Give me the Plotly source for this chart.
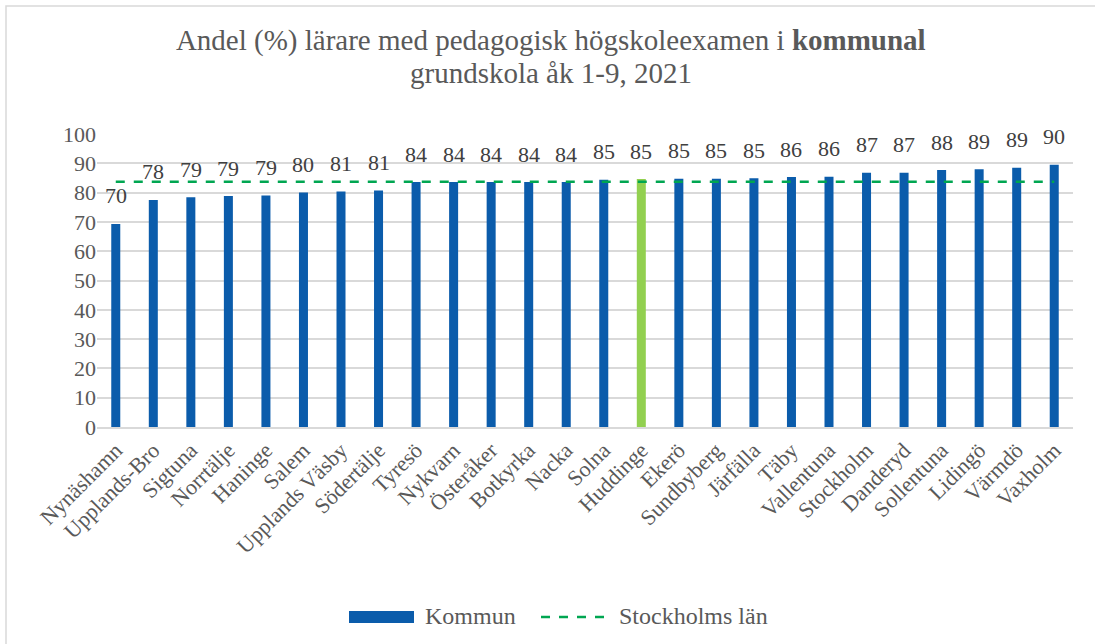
import plotly.graph_objects as go

categories = ["Nynäshamn", "Upplands-Bro", "Sigtuna", "Norrtälje", "Haninge", "Salem",
              "Upplands Väsby", "Södertälje", "Tyresö", "Nykvarn", "Österåker", "Botkyrka",
              "Nacka", "Solna", "Huddinge", "Ekerö", "Sundbyberg", "Järfälla", "Täby",
              "Vallentuna", "Stockholm", "Danderyd", "Sollentuna", "Lidingö", "Värmdö", "Vaxholm"]
values = [69.3, 77.5, 78.4, 78.8, 79.0, 80.0, 80.4, 80.7, 83.6, 83.6, 83.6, 83.6, 83.6,
          84.4, 84.6, 84.7, 84.7, 84.9, 85.3, 85.4, 86.8, 86.8, 87.7, 88.0, 88.5, 89.5]
value_labels = ["70", "78", "79", "79", "79", "80", "81", "81", "84", "84", "84", "84", "84",
                "85", "85", "85", "85", "85", "86", "86", "87", "87", "88", "89", "89", "90"]
lan_value = 83.7
highlight = "Huddinge"
y_ticks = [0, 10, 20, 30, 40, 50, 60, 70, 80, 90, 100]
series_names = ["Kommun", "Stockholms län"]
title_line1 = "Andel (%) lärare med pedagogisk högskoleexamen i <b>kommunal</b>"
title_line2 = "grundskola åk 1-9, 2021"

BLUE = "#0B5CAB"
GREEN_BAR = "#92D050"
GREEN_LINE = "#00A651"
TXT = "#595959"
FONT = "Liberation Serif, Times New Roman, serif"

W, H = 1095, 644
L, R, T, B = 97, 22, 134, 217
PW, PH = W - L - R, H - T - B


def px(x):
    return (x - L) / PW


def py(y):
    return (H - B - y) / PH


bar_colors = [GREEN_BAR if c == highlight else BLUE for c in categories]

fig = go.Figure()
fig.add_trace(go.Bar(
    x=categories, y=values, name=series_names[0],
    marker=dict(color=bar_colors, line=dict(width=0)),
    hoverinfo="x+y", showlegend=False,
))
fig.add_trace(go.Scatter(
    x=categories, y=[lan_value] * len(categories), name=series_names[1],
    mode="lines", line=dict(color=GREEN_LINE, width=2.5, dash="dash"), showlegend=False,
))

for c, v, t in zip(categories, values, value_labels):
    fig.add_annotation(x=c, y=v, text=t, showarrow=False, yanchor="middle", yshift=28,
                       font=dict(family=FONT, size=22, color="#404040"))

# second title line (kept separate for tighter line spacing)
fig.add_annotation(xref="paper", yref="paper", x=px(551), y=py(73), text=title_line2,
                   showarrow=False, xanchor="center", yanchor="middle",
                   font=dict(family=FONT, size=29, color=TXT))

# outer chart border
fig.add_shape(type="rect", xref="paper", yref="paper",
              x0=px(6), x1=px(1100), y0=py(650), y1=py(6),
              line=dict(color="#D9D9D9", width=1.5), fillcolor="rgba(0,0,0,0)", layer="below")

# legend (drawn manually to match wide bar swatch)
fig.add_shape(type="rect", xref="paper", yref="paper",
              x0=px(349), x1=px(414), y0=py(623), y1=py(611),
              line=dict(width=0), fillcolor=BLUE)
fig.add_annotation(xref="paper", yref="paper", x=px(423), y=py(616), text=series_names[0],
                   showarrow=False, xanchor="left", yanchor="middle",
                   font=dict(family=FONT, size=24, color=TXT))
fig.add_shape(type="line", xref="paper", yref="paper",
              x0=px(541), x1=px(607), y0=py(617), y1=py(617),
              line=dict(color=GREEN_LINE, width=2.5, dash="dash"))
fig.add_annotation(xref="paper", yref="paper", x=px(617), y=py(616), text=series_names[1],
                   showarrow=False, xanchor="left", yanchor="middle",
                   font=dict(family=FONT, size=24, color=TXT))

fig.update_layout(
    width=W, height=H,
    margin=dict(l=L, r=R, t=T, b=B),
    paper_bgcolor="white", plot_bgcolor="white",
    bargap=0.76,
    font=dict(family=FONT, size=22, color=TXT),
    title=dict(
        text=title_line1,
        x=0.503, xanchor="center", y=1 - 40 / H, yanchor="middle",
        font=dict(family=FONT, size=29, color=TXT),
    ),
    xaxis=dict(tickangle=-45, showgrid=False, showline=True, linecolor="#D9D9D9", linewidth=1.5,
               ticks="", tickfont=dict(family=FONT, size=22, color=TXT)),
    yaxis=dict(range=[0, 100], tickvals=y_ticks, showgrid=True, gridcolor="#D9D9D9", gridwidth=1.5,
               zeroline=False, ticks="", tickfont=dict(family=FONT, size=22, color=TXT)),
    showlegend=False,
)

fig.write_html("out.html", config={"displayModeBar": False},
               post_script="document.body.style.margin='0';")
